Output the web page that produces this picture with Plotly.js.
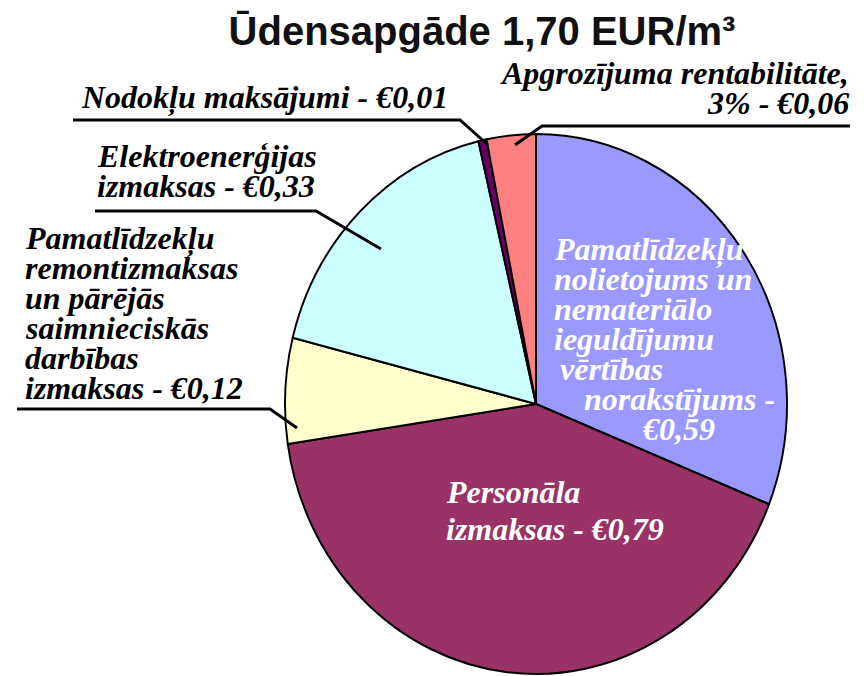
<!DOCTYPE html>
<html>
<head>
<meta charset="utf-8">
<script src="https://cdn.plot.ly/plotly-3.0.1.min.js"></script>
<style>html,body{margin:0;padding:0;background:#fff;}#chart{width:868px;height:676px;}</style>
</head>
<body>
<div id="chart"></div>
<script>
// ---- data ----
const chartTitle = 'Ūdensapgāde 1,70 EUR/m³';
const categories = [
  'Pamatlīdzekļu nolietojums un nemateriālo ieguldījumu vērtības norakstījums',
  'Personāla izmaksas',
  'Pamatlīdzekļu remontizmaksas un pārējās saimnieciskās darbības izmaksas',
  'Elektroenerģijas izmaksas',
  'Nodokļu maksājumi',
  'Apgrozījuma rentabilitāte, 3%'
];
const values = [0.59, 0.79, 0.12, 0.33, 0.01, 0.06];
const sliceColors = ['#9999FF', '#993366', '#FFFFCC', '#CCFFFF', '#660066', '#FF8080'];
// label text, line by line ({v} = slice value)
const labelLines = [
  ['Pamatlīdzekļu', 'nolietojums un', 'nemateriālo', 'ieguldījumu', 'vērtības', 'norakstījums -', '{v}'],
  ['Personāla', 'izmaksas - {v}'],
  ['Pamatlīdzekļu', 'remontizmaksas', 'un pārējās', 'saimnieciskās', 'darbības', 'izmaksas - {v}'],
  ['Elektroenerģijas', 'izmaksas - {v}'],
  ['Nodokļu maksājumi - {v}'],
  ['Apgrozījuma rentabilitāte,', '3% - {v}']
];

// ---- layout helpers (pixel -> paper) ----
const W = 868, H = 676;
const px = x => x / W;
const py = y => 1 - y / H;
const fmt = v => '€' + v.toFixed(2).replace('.', ',');

// label placement (pixels): x per line, first baseline, line step, anchor, colour
const labelPlace = [
  {xs: [552, 552, 552, 552, 558, 582, 640], y0: 260, step: 30, anchor: 'left', color: '#ffffff'},
  {xs: [444, 444], y0: 503, step: 37, anchor: 'left', color: '#ffffff'},
  {xs: [23, 23, 23, 23, 23, 23], y0: 249, step: 30, anchor: 'left', color: '#000000'},
  {xs: [95, 95], y0: 167, step: 30, anchor: 'left', color: '#000000'},
  {xs: [79], y0: 108, step: 30, anchor: 'left', color: '#000000'},
  {xs: [851, 851], y0: 84, step: 30, anchor: 'right', color: '#000000'}
];
const leaderPaths = [
  [[73, 120], [460, 120], [488, 145]],
  [[850, 126], [542, 126], [515, 145]],
  [[95, 211], [316, 211], [381, 249]],
  [[17, 409], [270, 409], [297, 428]]
];

const FS = 32;
const annotations = [];
labelLines.forEach((lines, i) => {
  const p = labelPlace[i];
  lines.forEach((ln, k) => {
    const base = p.y0 + k * p.step;
    annotations.push({
      xref: 'paper', yref: 'paper',
      x: px(p.xs[k]), y: py(base - 0.33 * FS),
      xanchor: p.anchor, yanchor: 'middle',
      text: '<b><i>' + ln.replace('{v}', fmt(values[i])) + '</i></b>',
      showarrow: false,
      font: {family: 'Liberation Serif', size: FS, color: p.color}
    });
  });
});

const shapes = leaderPaths.map(pts => ({
  type: 'path', xref: 'paper', yref: 'paper',
  path: pts.map((q, j) => (j ? 'L ' : 'M ') + px(q[0]) + ',' + py(q[1])).join(' '),
  line: {color: '#000', width: 3}
}));

// pie placement (drawn as circle, then viewed slightly oval like the reference)
const cx = 536, cy = 404, r = 260;
const rx = 251, ry = 270;
const trace = {
  type: 'pie',
  labels: categories,
  values: values,
  sort: false,
  direction: 'clockwise',
  rotation: 0,
  textinfo: 'none',
  hoverinfo: 'none',
  marker: {colors: sliceColors, line: {color: '#000000', width: 2}},
  domain: {x: [px(cx - r), px(cx + r)], y: [py(cy + r), py(cy - r)]},
  showlegend: false
};

const layout = {
  width: W, height: H,
  margin: {l: 0, r: 0, t: 0, b: 0},
  paper_bgcolor: '#ffffff',
  showlegend: false,
  title: {
    text: '<b>' + chartTitle + '</b>',
    x: px(482), xanchor: 'center', xref: 'paper',
    y: py(31), yanchor: 'middle', yref: 'container',
    font: {family: 'Liberation Sans', size: 40, color: '#111111'}
  },
  annotations: annotations,
  shapes: shapes
};

Plotly.newPlot('chart', [trace], layout, {displayModeBar: false, staticPlot: true}).then(gd => {
  const layer = gd.querySelector('.pielayer');
  if (layer) {
    const sx = rx / r, sy = ry / r;
    layer.setAttribute('transform',
      'matrix(' + sx + ',0,0,' + sy + ',' + (cx * (1 - sx)) + ',' + (cy * (1 - sy)) + ')');
  }
});
</script>
</body>
</html>
